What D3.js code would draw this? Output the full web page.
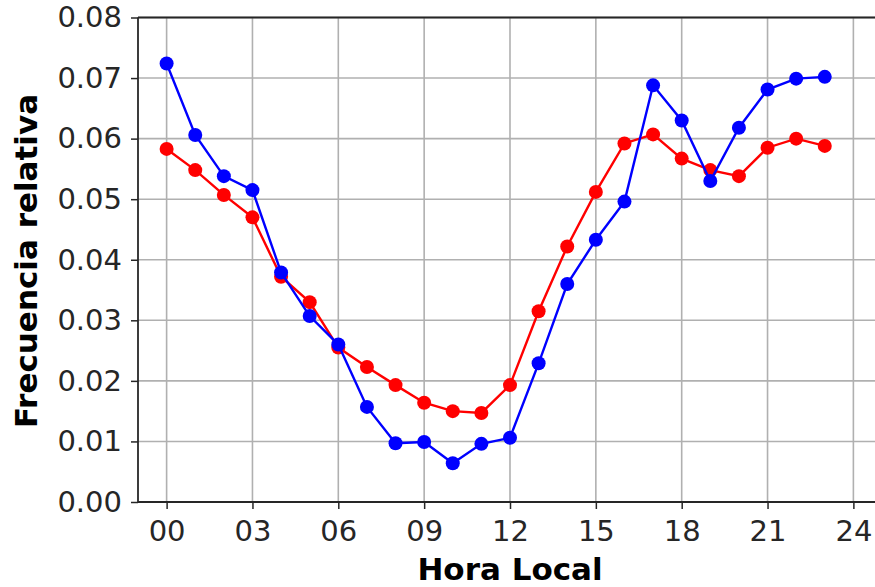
<!DOCTYPE html>
<html>
<head>
<meta charset="utf-8">
<script src="https://cdn.jsdelivr.net/npm/d3@7"></script>
<style>
  body { margin: 0; background: #fff; }
  svg text { font-family: "DejaVu Sans", sans-serif; fill: #262626; }
</style>
</head>
<body>
<svg id="chart"></svg>
<script>
// hours of the day, 0..23
var hours = d3.range(0, 24);

// relative frequency, red series
var redValues = [0.0583, 0.0548, 0.0507, 0.0470, 0.0372, 0.0330, 0.0255, 0.0223,
                 0.0193, 0.0164, 0.0150, 0.0147, 0.0193, 0.0315, 0.0422, 0.0512,
                 0.0592, 0.0607, 0.0567, 0.0548, 0.0538, 0.0585, 0.0600, 0.0588];

// relative frequency, blue series
var blueValues = [0.0724, 0.0606, 0.0538, 0.0515, 0.0379, 0.0307, 0.0260, 0.0157,
                  0.0097, 0.0099, 0.0064, 0.0096, 0.0106, 0.0229, 0.0360, 0.0433,
                  0.0496, 0.0688, 0.0630, 0.0530, 0.0618, 0.0681, 0.0699, 0.0702];

var xTicks = [0, 3, 6, 9, 12, 15, 18, 21, 24];
var yTicks = [0, 0.01, 0.02, 0.03, 0.04, 0.05, 0.06, 0.07, 0.08];

var screen = {width: 875, height: 587};
var margins = {top: 17.5, bottom: 85, left: 138, right: -7};

var graph = {
    width: screen.width - margins.left - margins.right,
    height: screen.height - margins.top - margins.bottom
};

var xScale = d3.scaleLinear()
    .domain([-1, 25])
    .range([0, graph.width]);

var yScale = d3.scaleLinear()
    .domain([0, 0.08])
    .range([graph.height, 0]);

var svg = d3.select("#chart")
    .attr("width", screen.width)
    .attr("height", screen.height);

var g = svg.append("g")
    .attr("transform", "translate(" + margins.left + "," + margins.top + ")");

// grid
g.append("g").selectAll("line")
    .data(xTicks)
    .enter()
    .append("line")
    .attr("x1", function(d) { return xScale(d); })
    .attr("x2", function(d) { return xScale(d); })
    .attr("y1", 0)
    .attr("y2", graph.height)
    .attr("stroke", "#b0b0b0")
    .attr("stroke-width", 1.6);

g.append("g").selectAll("line")
    .data(yTicks)
    .enter()
    .append("line")
    .attr("x1", 0)
    .attr("x2", graph.width)
    .attr("y1", function(d) { return yScale(d); })
    .attr("y2", function(d) { return yScale(d); })
    .attr("stroke", "#b0b0b0")
    .attr("stroke-width", 1.6);

// axes
var xAxis = d3.axisBottom(xScale)
    .tickValues(xTicks)
    .tickSize(7)
    .tickPadding(11)
    .tickFormat(function(d) { return d3.format("02d")(d); });

var yAxis = d3.axisLeft(yScale)
    .tickValues(yTicks)
    .tickSize(7)
    .tickPadding(9)
    .tickFormat(d3.format(".2f"));

var xg = g.append("g")
    .attr("transform", "translate(0," + graph.height + ")")
    .call(xAxis);
var yg = g.append("g").call(yAxis);

[xg, yg].forEach(function(a) {
    a.selectAll("text").style("font-size", "29px").attr("fill", "#262626");
    a.selectAll("line").attr("stroke", "#262626").attr("stroke-width", 1.5);
    a.select(".domain").remove();
});

// spines
g.append("line")
    .attr("x1", 0).attr("x2", graph.width)
    .attr("y1", 0).attr("y2", 0)
    .attr("stroke", "#262626").attr("stroke-width", 1.8);
g.append("line")
    .attr("x1", 0).attr("x2", graph.width)
    .attr("y1", graph.height).attr("y2", graph.height)
    .attr("stroke", "#262626").attr("stroke-width", 1.8);
g.append("line")
    .attr("x1", 0).attr("x2", 0)
    .attr("y1", 0).attr("y2", graph.height)
    .attr("stroke", "#262626").attr("stroke-width", 1.8);

// series
var drawSeries = function(values, color) {
    var line = d3.line()
        .x(function(d, i) { return xScale(hours[i]); })
        .y(function(d) { return yScale(d); });

    g.append("path")
        .datum(values)
        .attr("d", line)
        .attr("fill", "none")
        .attr("stroke", color)
        .attr("stroke-width", 2.4);

    g.append("g").selectAll("circle")
        .data(values)
        .enter()
        .append("circle")
        .attr("cx", function(d, i) { return xScale(hours[i]); })
        .attr("cy", function(d) { return yScale(d); })
        .attr("r", 7)
        .attr("fill", color);
};

drawSeries(redValues, "#ff0000");
drawSeries(blueValues, "#0000ff");

// labels
svg.append("text")
    .attr("x", margins.left + xScale(12))
    .attr("y", 580)
    .attr("text-anchor", "middle")
    .style("font-size", "31px")
    .style("font-weight", "bold")
    .style("fill", "#000")
    .text("Hora Local");

svg.append("text")
    .attr("transform", "translate(37,261) rotate(-90)")
    .attr("text-anchor", "middle")
    .style("font-size", "31px")
    .style("font-weight", "bold")
    .style("fill", "#000")
    .text("Frecuencia relativa");
</script>
</body>
</html>
